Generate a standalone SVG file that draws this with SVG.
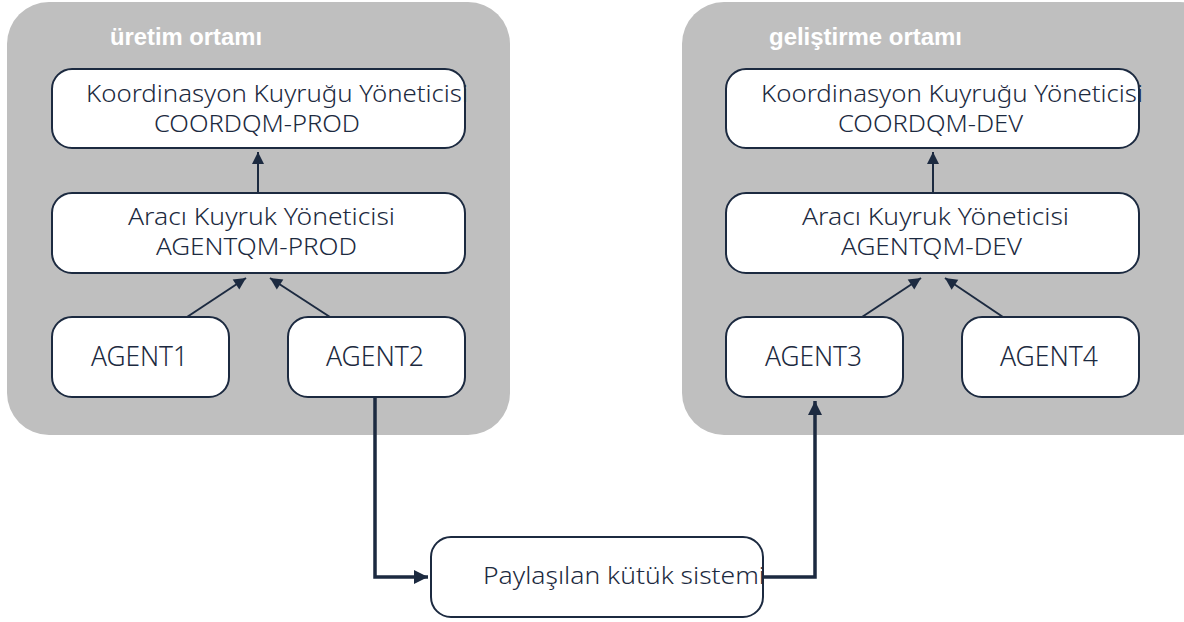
<svg xmlns="http://www.w3.org/2000/svg" width="1184" height="622" viewBox="0 0 1184 622">
<style>
.panel{fill:#bfbfbf}
.title{fill:#ffffff;font-family:"Liberation Sans",Arial,sans-serif;font-size:24px;font-weight:bold}
.box{fill:#ffffff;stroke:#1c2a40;stroke-width:2}
.lbl{fill:#1c2a40;font-family:"Noto Sans","Open Sans",sans-serif;font-size:23px;font-weight:300}
.big{font-size:27px}
.conn{fill:none;stroke:#1c2a40;stroke-width:2}
.thick{fill:none;stroke:#1c2a40;stroke-width:3.5}
</style>
<defs>
<marker id="ah" markerUnits="userSpaceOnUse" markerWidth="14" markerHeight="14" viewBox="0 0 14 14" refX="13" refY="7" orient="auto">
<path d="M1,1 L13,7 L1,13 Z" fill="#1c2a40"/>
</marker>
<marker id="ahb" markerUnits="userSpaceOnUse" markerWidth="16" markerHeight="16" viewBox="0 0 16 16" refX="15" refY="8" orient="auto">
<path d="M1,1 L15,8 L1,15 Z" fill="#1c2a40"/>
</marker>
</defs>

<g id="panel-prod">
<rect class="panel" x="7" y="2" width="503" height="433" rx="42"/>
<text class="title" x="110" y="45" textLength="152" lengthAdjust="spacingAndGlyphs">üretim ortamı</text>
</g>
<g id="panel-dev">
<rect class="panel" x="682" y="2" width="540" height="433" rx="42"/>
<text class="title" x="769" y="45" textLength="193" lengthAdjust="spacingAndGlyphs">geliştirme ortamı</text>
</g>

<g id="connectors">
<line class="conn" x1="258" y1="193" x2="258" y2="152" marker-end="url(#ah)"/>
<line class="conn" x1="187" y1="317" x2="246" y2="278" marker-end="url(#ah)"/>
<line class="conn" x1="330" y1="317" x2="270" y2="278" marker-end="url(#ah)"/>
<line class="conn" x1="933" y1="193" x2="933" y2="152" marker-end="url(#ah)"/>
<line class="conn" x1="862" y1="317" x2="921" y2="278" marker-end="url(#ah)"/>
<line class="conn" x1="1003" y1="317" x2="945" y2="278" marker-end="url(#ah)"/>
<polyline class="thick" points="375,397 375,577 428,577" marker-end="url(#ahb)"/>
<polyline class="thick" points="763,577 815,577 815,401" marker-end="url(#ahb)"/>
</g>

<g id="coordqm-prod">
<rect class="box" x="52" y="69" width="413" height="79" rx="20"/>
<text class="lbl" x="86" y="102" textLength="382" lengthAdjust="spacingAndGlyphs">Koordinasyon Kuyruğu Yöneticisi</text>
<text class="lbl" x="154" y="132" textLength="206" lengthAdjust="spacingAndGlyphs">COORDQM-PROD</text>
</g>
<g id="agentqm-prod">
<rect class="box" x="52" y="193" width="413" height="80" rx="20"/>
<text class="lbl" x="128" y="225" textLength="267" lengthAdjust="spacingAndGlyphs">Aracı Kuyruk Yöneticisi</text>
<text class="lbl" x="156" y="255" textLength="201" lengthAdjust="spacingAndGlyphs">AGENTQM-PROD</text>
</g>
<g id="agent1">
<rect class="box" x="52" y="317" width="177" height="80" rx="20"/>
<text class="lbl big" x="91" y="366" textLength="97" lengthAdjust="spacingAndGlyphs">AGENT1</text>
</g>
<g id="agent2">
<rect class="box" x="288" y="317" width="177" height="80" rx="20"/>
<text class="lbl big" x="326" y="366" textLength="98" lengthAdjust="spacingAndGlyphs">AGENT2</text>
</g>

<g id="coordqm-dev">
<rect class="box" x="726" y="69" width="413" height="79" rx="20"/>
<text class="lbl" x="761" y="102" textLength="382" lengthAdjust="spacingAndGlyphs">Koordinasyon Kuyruğu Yöneticisi</text>
<text class="lbl" x="838" y="132" textLength="185" lengthAdjust="spacingAndGlyphs">COORDQM-DEV</text>
</g>
<g id="agentqm-dev">
<rect class="box" x="726" y="193" width="413" height="80" rx="20"/>
<text class="lbl" x="802" y="225" textLength="267" lengthAdjust="spacingAndGlyphs">Aracı Kuyruk Yöneticisi</text>
<text class="lbl" x="841" y="255" textLength="181" lengthAdjust="spacingAndGlyphs">AGENTQM-DEV</text>
</g>
<g id="agent3">
<rect class="box" x="726" y="317" width="177" height="80" rx="20"/>
<text class="lbl big" x="765" y="366" textLength="97" lengthAdjust="spacingAndGlyphs">AGENT3</text>
</g>
<g id="agent4">
<rect class="box" x="962" y="317" width="177" height="80" rx="20"/>
<text class="lbl big" x="1000" y="366" textLength="98" lengthAdjust="spacingAndGlyphs">AGENT4</text>
</g>

<g id="shared-fs">
<rect class="box" x="431" y="537" width="332" height="80" rx="20"/>
<text class="lbl" x="483" y="584" font-size="26" textLength="282" lengthAdjust="spacingAndGlyphs">Paylaşılan kütük sistemi</text>
</g>
</svg>
